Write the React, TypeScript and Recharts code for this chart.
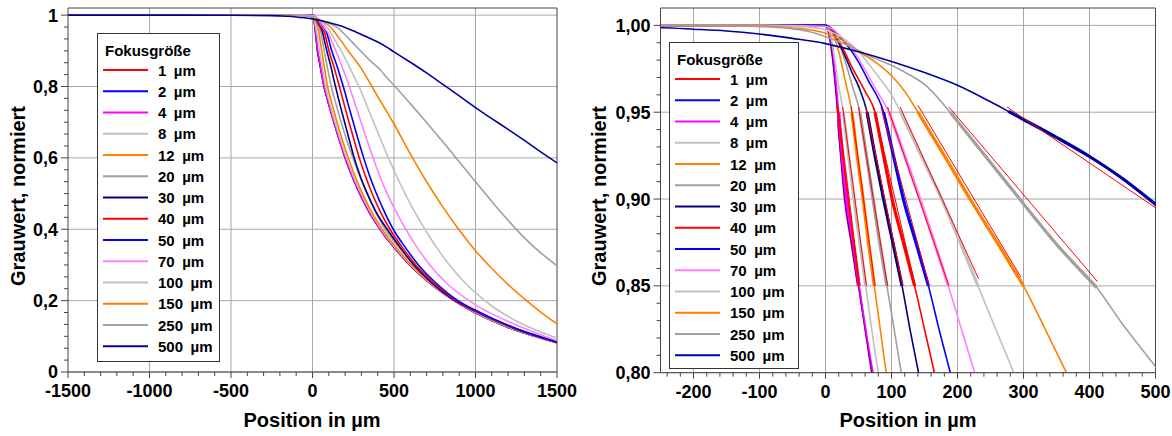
import React from 'react';
import { LineChart, Line, XAxis, YAxis, CartesianGrid } from 'recharts';

type Pt = [number, number];

const FOCUS_LABELS = ['1', '2', '4', '8', '12', '20', '30', '40', '50', '70', '100', '150', '250', '500'];
const FOCUS_COLORS = [
  '#ff0000', '#0000ff', '#ff00ff', '#c0c0c0', '#ff8000', '#a0a0a0', '#000080',
  '#ff0000', '#0000ff', '#ff80ff', '#c0c0c0', '#ff8000', '#a0a0a0', '#0000a0',
];

// [position in µm, grey value]
const FOCUS_1: Pt[] = [[-1500, 1], [-250, 1], [0, 1], [5, 0.995], [10, 0.983], [15, 0.965], [20, 0.943], [25, 0.921], [30, 0.9], [40, 0.875], [50, 0.85], [60, 0.825], [70, 0.8], [85, 0.774], [100, 0.749], [125, 0.709], [150, 0.671], [175, 0.635], [200, 0.6], [250, 0.541], [300, 0.49], [350, 0.446], [400, 0.41], [450, 0.377], [500, 0.349], [600, 0.298], [700, 0.256], [800, 0.221], [900, 0.191], [1000, 0.166], [1100, 0.144], [1200, 0.125], [1300, 0.109], [1400, 0.095], [1500, 0.082]];
const FOCUS_2: Pt[] = [[-1500, 1], [-250, 1], [0, 1], [5, 0.996], [10, 0.985], [15, 0.967], [20, 0.946], [25, 0.924], [31, 0.9], [41, 0.875], [50, 0.851], [60, 0.826], [71, 0.8], [85, 0.775], [100, 0.75], [125, 0.71], [150, 0.672], [175, 0.636], [200, 0.601], [250, 0.542], [300, 0.491], [350, 0.447], [400, 0.411], [450, 0.378], [500, 0.35], [600, 0.299], [700, 0.257], [800, 0.222], [900, 0.192], [1000, 0.166], [1100, 0.144], [1200, 0.125], [1300, 0.109], [1400, 0.095], [1500, 0.082]];
const FOCUS_4: Pt[] = [[-1500, 1], [-250, 1], [0, 1], [5, 0.997], [10, 0.988], [15, 0.971], [20, 0.95], [25, 0.927], [32, 0.9], [42, 0.875], [51, 0.85], [61, 0.825], [72, 0.8], [86, 0.775], [100, 0.751], [125, 0.711], [150, 0.673], [175, 0.637], [200, 0.602], [250, 0.543], [300, 0.492], [350, 0.448], [400, 0.412], [450, 0.379], [500, 0.351], [600, 0.3], [700, 0.258], [800, 0.222], [900, 0.192], [1000, 0.167], [1100, 0.145], [1200, 0.126], [1300, 0.11], [1400, 0.096], [1500, 0.083]];
const FOCUS_8: Pt[] = [[-1500, 1], [-250, 1], [0, 1], [5, 0.998], [10, 0.99], [15, 0.978], [20, 0.965], [27, 0.95], [35, 0.925], [43, 0.9], [52, 0.875], [61, 0.85], [70, 0.825], [80, 0.8], [100, 0.763], [125, 0.721], [150, 0.682], [175, 0.645], [200, 0.611], [250, 0.55], [300, 0.498], [350, 0.453], [400, 0.415], [450, 0.382], [500, 0.353], [600, 0.301], [700, 0.258], [800, 0.223], [900, 0.193], [1000, 0.167], [1200, 0.126], [1500, 0.083]];
const FOCUS_12: Pt[] = [[-1500, 1], [-250, 1], [0, 1], [10, 0.996], [20, 0.985], [30, 0.968], [40, 0.95], [48, 0.925], [57, 0.9], [65, 0.875], [74, 0.85], [83, 0.825], [92, 0.8], [110, 0.768], [130, 0.734], [150, 0.7], [175, 0.662], [200, 0.626], [250, 0.562], [300, 0.507], [350, 0.46], [400, 0.42], [450, 0.386], [500, 0.356], [600, 0.303], [700, 0.26], [800, 0.224], [900, 0.194], [1000, 0.168], [1200, 0.127], [1500, 0.083]];
const FOCUS_20: Pt[] = [[-1500, 1], [-250, 1], [0, 1], [10, 0.997], [20, 0.99], [30, 0.979], [40, 0.966], [52, 0.95], [62, 0.925], [72, 0.9], [82, 0.875], [93, 0.85], [104, 0.825], [115, 0.8], [135, 0.766], [150, 0.741], [175, 0.701], [200, 0.664], [250, 0.597], [300, 0.537], [350, 0.484], [400, 0.436], [450, 0.397], [500, 0.366], [600, 0.311], [700, 0.265], [800, 0.227], [900, 0.196], [1000, 0.169], [1200, 0.127], [1500, 0.083]];
const FOCUS_30: Pt[] = [[-1500, 1], [-250, 1], [0, 1], [10, 0.997], [20, 0.99], [30, 0.982], [40, 0.973], [50, 0.965], [63, 0.95], [75, 0.925], [88, 0.9], [102, 0.875], [116, 0.85], [128, 0.825], [141, 0.8], [168, 0.75], [197, 0.7], [226, 0.65], [256, 0.6], [292, 0.55], [336, 0.5], [388, 0.45], [458, 0.4], [536, 0.35], [622, 0.3], [732, 0.25], [875, 0.2], [1000, 0.17], [1250, 0.12], [1500, 0.083]];
const FOCUS_40: Pt[] = [[-1500, 1], [-250, 1], [0, 1], [10, 0.997], [20, 0.991], [30, 0.984], [40, 0.976], [50, 0.969], [60, 0.962], [75, 0.95], [88, 0.925], [101, 0.9], [118, 0.875], [135, 0.85], [150, 0.825], [165, 0.8], [194, 0.75], [224, 0.7], [255, 0.65], [287, 0.6], [324, 0.55], [366, 0.5], [415, 0.45], [475, 0.4], [550, 0.35], [634, 0.3], [742, 0.25], [882, 0.2], [1000, 0.171], [1250, 0.121], [1500, 0.084]];
const FOCUS_50: Pt[] = [[-1500, 1], [-250, 1], [0, 1], [10, 0.998], [20, 0.994], [32, 0.989], [50, 0.979], [65, 0.968], [88, 0.95], [103, 0.925], [118, 0.9], [137, 0.875], [156, 0.85], [172, 0.825], [189, 0.8], [219, 0.75], [250, 0.7], [281, 0.65], [314, 0.6], [350, 0.55], [392, 0.5], [440, 0.45], [495, 0.4], [568, 0.35], [650, 0.3], [756, 0.25], [892, 0.2], [1000, 0.173], [1250, 0.122], [1500, 0.085]];
const FOCUS_70: Pt[] = [[-1500, 1], [-100, 1], [0, 0.9995], [10, 0.998], [25, 0.993], [50, 0.981], [75, 0.964], [96, 0.95], [120, 0.925], [143, 0.9], [165, 0.875], [186, 0.85], [206, 0.825], [226, 0.8], [262, 0.75], [298, 0.7], [334, 0.65], [372, 0.6], [412, 0.55], [458, 0.5], [512, 0.45], [572, 0.4], [640, 0.35], [720, 0.3], [820, 0.25], [1000, 0.188], [1250, 0.132], [1500, 0.088]];
const FOCUS_100: Pt[] = [[-1500, 1], [-100, 1], [-50, 0.9995], [-25, 0.999], [0, 0.9975], [25, 0.993], [50, 0.985], [75, 0.973], [100, 0.96], [114, 0.95], [145, 0.925], [176, 0.9], [204, 0.875], [231, 0.85], [258, 0.825], [285, 0.8], [330, 0.75], [375, 0.7], [420, 0.65], [466, 0.6], [515, 0.55], [568, 0.5], [625, 0.45], [690, 0.4], [760, 0.35], [840, 0.3], [935, 0.25], [1000, 0.222], [1100, 0.185], [1250, 0.143], [1500, 0.095]];
const FOCUS_150: Pt[] = [[-1500, 1], [-150, 1], [-100, 0.9998], [-50, 0.9985], [-25, 0.9975], [0, 0.9955], [25, 0.9915], [50, 0.985], [75, 0.979], [100, 0.971], [120, 0.962], [140, 0.95], [180, 0.925], [219, 0.9], [260, 0.875], [300, 0.85], [333, 0.825], [365, 0.8], [400, 0.772], [450, 0.734], [500, 0.695], [600, 0.611], [700, 0.533], [800, 0.462], [900, 0.398], [1000, 0.34], [1100, 0.29], [1200, 0.245], [1300, 0.205], [1400, 0.168], [1500, 0.135]];
const FOCUS_250: Pt[] = [[-1500, 1], [-250, 1], [-150, 0.9998], [-100, 0.9993], [-50, 0.998], [-25, 0.9965], [0, 0.9935], [25, 0.99], [50, 0.9855], [75, 0.981], [100, 0.977], [125, 0.972], [150, 0.966], [189, 0.95], [250, 0.921], [290, 0.902], [350, 0.874], [411, 0.849], [450, 0.828], [500, 0.8035], [600, 0.752], [700, 0.699], [800, 0.645], [900, 0.589], [1000, 0.533], [1100, 0.478], [1200, 0.425], [1300, 0.376], [1400, 0.334], [1500, 0.298]];
const FOCUS_500: Pt[] = [[-1500, 1], [-1000, 1], [-500, 0.9995], [-250, 0.9986], [-200, 0.9978], [-150, 0.9968], [-100, 0.995], [-50, 0.9925], [0, 0.9895], [50, 0.9848], [100, 0.9792], [150, 0.9728], [200, 0.9655], [250, 0.956], [277, 0.9505], [300, 0.9458], [350, 0.9355], [400, 0.9245], [450, 0.9118], [500, 0.897], [600, 0.868], [700, 0.838], [800, 0.806], [900, 0.774], [1000, 0.741], [1100, 0.71], [1200, 0.68], [1300, 0.649], [1400, 0.617], [1500, 0.586]];

const ALL_SERIES = [FOCUS_1, FOCUS_2, FOCUS_4, FOCUS_8, FOCUS_12, FOCUS_20, FOCUS_30, FOCUS_40, FOCUS_50, FOCUS_70, FOCUS_100, FOCUS_150, FOCUS_250, FOCUS_500];

// straight fit lines (thin red) in the detail panel: x1, y1, x2, y2
const FIT_LINES: number[][] = [
  [17, 0.953, 50, 0.85], [18, 0.953, 51, 0.85], [19, 0.953, 52, 0.85], [26, 0.953, 62, 0.85],
  [39, 0.953, 75, 0.85], [50, 0.953, 94, 0.85], [61, 0.953, 117, 0.85], [73, 0.953, 136, 0.85],
  [84, 0.953, 157, 0.85], [94, 0.953, 187, 0.85], [113, 0.953, 232, 0.854], [140, 0.954, 296, 0.855],
  [187, 0.953, 412, 0.8525], [275, 0.953, 500, 0.895],
];

const LEFT_X_LABELS = [-1500, -1000, -500, 0, 500, 1000, 1500];
const LEFT_X_GRID = [-1000, -500, 0, 500, 1000];
const LEFT_Y_TICKS = [0, 0.2, 0.4, 0.6, 0.8, 1];
const LEFT_Y_LABELS = ['0', '0,2', '0,4', '0,6', '0,8', '1'];
const RIGHT_X_LABELS = [-200, -100, 0, 100, 200, 300, 400, 500];
const RIGHT_X_GRID = [-200, -100, 0, 100, 200, 300, 400];
const RIGHT_Y_TICKS = [0.8, 0.85, 0.9, 0.95, 1.0];
const RIGHT_Y_LABELS = ['0,80', '0,85', '0,90', '0,95', '1,00'];

const steps = (from: number, to: number, n: number) =>
  Array.from({ length: n + 1 }, (_, i) => from + ((to - from) * i) / n);

const AXIS = '#454545';
const GRID = '#a8a8a8';
const FONT = '"Liberation Sans", Arial, Helvetica, sans-serif';

const rows = (pts: Pt[]) => pts.map(([x, y]) => ({ x, y }));
const isIn = (list: number[], v: number) => list.some((m) => Math.abs(m - v) < 1e-6);

const makeXTick = (labels: number[]) => (props: any) => {
  const { x, y, payload } = props;
  const major = isIn(labels, payload.value);
  return (
    <g>
      <line x1={x} x2={x} y1={y} y2={y + (major ? 6 : 4)} stroke={AXIS} />
      {major && (
        <text x={x} y={y + 25} textAnchor="middle" fontSize={18} fontWeight="bold" fontFamily={FONT} fill="#000">
          {String(payload.value)}
        </text>
      )}
    </g>
  );
};

const makeYTick = (ticks: number[], labels: string[]) => (props: any) => {
  const { x, y, payload } = props;
  const idx = ticks.findIndex((m) => Math.abs(m - payload.value) < 1e-6);
  return (
    <g>
      <line x1={x - (idx >= 0 ? 7 : 4)} x2={x} y1={y} y2={y} stroke={AXIS} />
      {idx >= 0 && (
        <text x={x - 10} y={y} dy="0.36em" textAnchor="end" fontSize={18} fontWeight="bold" fontFamily={FONT} fill="#000">
          {labels[idx]}
        </text>
      )}
    </g>
  );
};

interface PanelProps {
  width: number;
  margin: { top: number; right: number; bottom: number; left: number };
  yAxisWidth: number;
  xDomain: [number, number];
  yDomain: [number, number];
  xTicks: number[];
  xLabels: number[];
  xGrid: number[];
  yTicks: number[];
  yMajor: number[];
  yLabels: string[];
  detail: boolean;
}

const Panel = (p: PanelProps) => {
  const H = 436;
  const XH = 40;
  const plotLeft = p.margin.left + p.yAxisWidth;
  const plotW = p.width - plotLeft - p.margin.right;
  const plotTop = p.margin.top;
  const plotH = H - p.margin.top - p.margin.bottom - XH;
  const px = (v: number) => plotLeft + ((v - p.xDomain[0]) / (p.xDomain[1] - p.xDomain[0])) * plotW;
  const py = (v: number) => plotTop + ((p.yDomain[1] - v) / (p.yDomain[1] - p.yDomain[0])) * plotH;
  return (
    <LineChart width={p.width} height={H} margin={p.margin}>
      <CartesianGrid
        stroke={GRID}
        verticalCoordinatesGenerator={() => p.xGrid.map(px)}
        horizontalCoordinatesGenerator={() => p.yMajor.map(py)}
      />
      <CartesianGrid
        stroke={AXIS}
        verticalCoordinatesGenerator={() => [px(p.xDomain[1])]}
        horizontalCoordinatesGenerator={() => [py(p.yDomain[1])]}
      />
      <XAxis
        type="number"
        dataKey="x"
        domain={p.xDomain}
        allowDataOverflow
        ticks={p.xTicks}
        interval={0}
        height={XH}
        tickSize={0}
        tickMargin={0}
        tickLine={false}
        axisLine={{ stroke: AXIS }}
        tick={makeXTick(p.xLabels)}
      />
      <YAxis
        type="number"
        domain={p.yDomain}
        allowDataOverflow
        ticks={p.yTicks}
        interval={0}
        width={p.yAxisWidth}
        tickSize={0}
        tickMargin={0}
        tickLine={false}
        axisLine={{ stroke: AXIS }}
        tick={makeYTick(p.yMajor, p.yLabels)}
      />
      {ALL_SERIES.map((s, i) => (
        <Line
          key={`s${i}`}
          data={rows(s)}
          dataKey="y"
          type="monotone"
          stroke={FOCUS_COLORS[i]}
          strokeWidth={1.6}
          dot={false}
          isAnimationActive={false}
        />
      ))}
      {p.detail &&
        ALL_SERIES.map((s, i) => (
          <Line
            key={`t${i}`}
            data={rows(s.filter(([, y]) => y <= 0.955 && y >= 0.848))}
            dataKey="y"
            type="monotone"
            stroke={FOCUS_COLORS[i]}
            strokeWidth={3.2}
            dot={false}
            isAnimationActive={false}
          />
        ))}
      {p.detail &&
        FIT_LINES.map((f, i) => (
          <Line
            key={`f${i}`}
            data={[{ x: f[0], y: f[1] }, { x: f[2], y: f[3] }]}
            dataKey="y"
            type="linear"
            stroke="#ff0000"
            strokeWidth={1}
            dot={false}
            isAnimationActive={false}
          />
        ))}
    </LineChart>
  );
};

const LegendBox = ({ x, y, w, h }: { x: number; y: number; w: number; h: number }) => (
  <g fontFamily={FONT} fontWeight="bold" fontSize={15}>
    <rect x={x + 0.5} y={y + 0.5} width={w} height={h} fill="#fff" stroke="#333" />
    <text x={x + 8} y={y + 17} dominantBaseline="central" fill="#000">Fokusgröße</text>
    {FOCUS_LABELS.map((lab, i) => {
      const cy = y + 37 + i * 21.25;
      return (
        <g key={lab}>
          <line x1={x + 6} x2={x + 51} y1={cy} y2={cy} stroke={FOCUS_COLORS[i]} strokeWidth={2} />
          <text x={x + 61} y={cy} dominantBaseline="central" fill="#000">{`${lab}\u2002µm`}</text>
        </g>
      );
    })}
  </g>
);

const App = () => (
  <div style={{ position: 'absolute', left: 0, top: 0, width: 1172, height: 436, background: '#fff', overflow: 'hidden' }}>
    <div style={{ position: 'absolute', left: 0, top: 0 }}>
      <Panel
        width={580}
        margin={{ top: 8, right: 23, bottom: 24, left: 0 }}
        yAxisWidth={68}
        xDomain={[-1500, 1500]}
        yDomain={[0, 1.02]}
        xTicks={steps(-1500, 1500, 30)}
        xLabels={LEFT_X_LABELS}
        xGrid={LEFT_X_GRID}
        yTicks={steps(0, 1, 30)}
        yMajor={LEFT_Y_TICKS}
        yLabels={LEFT_Y_LABELS}
        detail={false}
      />
    </div>
    <div style={{ position: 'absolute', left: 580, top: 0 }}>
      <Panel
        width={592}
        margin={{ top: 8, right: 16.5, bottom: 23.3, left: 0 }}
        yAxisWidth={80.5}
        xDomain={[-250, 500]}
        yDomain={[0.8, 1.01]}
        xTicks={steps(-240, 500, 37)}
        xLabels={RIGHT_X_LABELS}
        xGrid={RIGHT_X_GRID}
        yTicks={steps(0.8, 1.0, 20)}
        yMajor={RIGHT_Y_TICKS}
        yLabels={RIGHT_Y_LABELS}
        detail={true}
      />
    </div>
    <svg width={1172} height={436} style={{ position: 'absolute', left: 0, top: 0, pointerEvents: 'none' }}>
      <LegendBox x={97} y={33} w={122} h={328} />
      <LegendBox x={669} y={42} w={129} h={326} />
      <g fontFamily={FONT} fontWeight="bold" fontSize={20} fill="#000">
        <text x={312} y={427} textAnchor="middle">Position in µm</text>
        <text x={908} y={427} textAnchor="middle">Position in µm</text>
        <text x={18} y={196} textAnchor="middle" dominantBaseline="central" transform="rotate(-90 18 196)">Grauwert, normiert</text>
        <text x={599} y={196} textAnchor="middle" dominantBaseline="central" transform="rotate(-90 599 196)">Grauwert, normiert</text>
      </g>
    </svg>
  </div>
);

export default App;
